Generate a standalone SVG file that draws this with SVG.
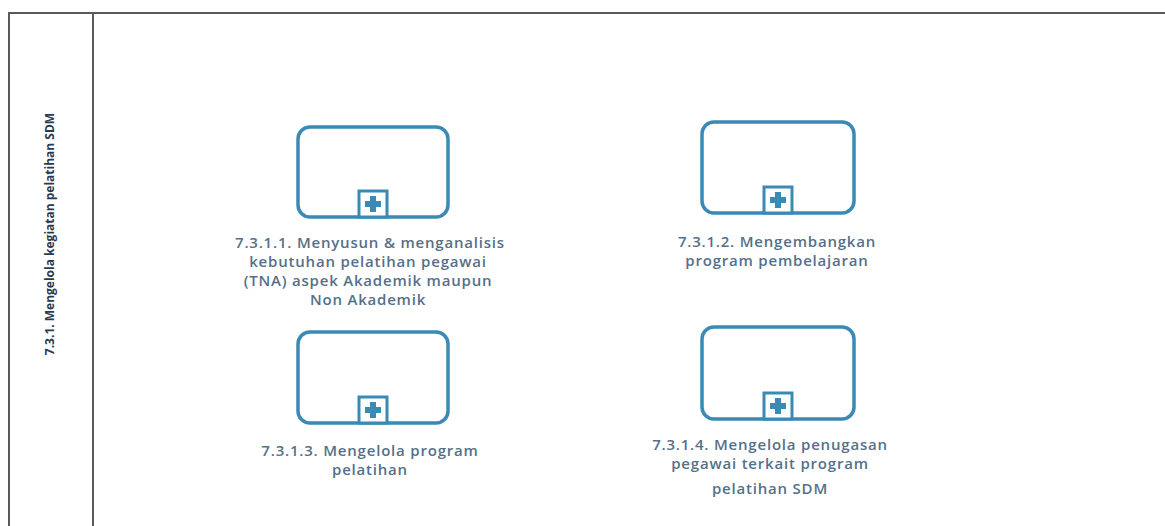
<svg xmlns="http://www.w3.org/2000/svg" width="1165" height="526" viewBox="0 0 1165 526">
  <defs>
    <style>
      .pool { fill: none; stroke: #5a5a5a; stroke-width: 2; }
      .task { fill: #ffffff; stroke: #3a8ab5; stroke-width: 3.5; }
      .marker { fill: #ffffff; stroke: #3a8ab5; stroke-width: 3; }
      .plus { fill: #3a8ab5; }
      .label { font-family: "Open Sans", "Noto Sans", sans-serif; font-size: 15px; font-weight: 600; letter-spacing: 0.8px; fill: #55708a; text-anchor: middle; }
      .lane { font-family: "Open Sans", "Liberation Sans", sans-serif; font-size: 12px; font-weight: 700; fill: #2a3a4e; text-anchor: middle; }
    </style>
    <g id="subMarker">
      <rect class="marker" x="-14" y="-26" width="28" height="26"/>
      <path class="plus" d="M-3,-21 h6 v5 h5 v6 h-5 v5 h-6 v-5 h-5 v-6 h5 z"/>
    </g>
  </defs>
  <rect x="0" y="0" width="1165" height="526" fill="#ffffff"/>

  <g id="pool">
    <path class="pool" d="M1165,13 H9 V526"/>
    <line class="pool" x1="93" y1="13" x2="93" y2="526"/>
    <text class="lane" transform="translate(54,234) rotate(-90)">7.3.1. Mengelola kegiatan pelatihan SDM</text>
  </g>

  <g id="connectors"></g>

  <g id="task1">
    <rect class="task" x="298" y="127" width="150" height="90" rx="12"/>
    <use href="#subMarker" x="373" y="217"/>
    <text class="label" x="370" y="248">7.3.1.1. Menyusun &amp; menganalisis</text>
    <text class="label" x="368" y="267">kebutuhan pelatihan pegawai</text>
    <text class="label" x="368" y="286">(TNA) aspek Akademik maupun</text>
    <text class="label" x="368" y="305">Non Akademik</text>
  </g>

  <g id="task2">
    <rect class="task" x="702" y="122" width="152" height="91" rx="12"/>
    <use href="#subMarker" x="778" y="213"/>
    <text class="label" x="777" y="247">7.3.1.2. Mengembangkan</text>
    <text class="label" x="777" y="266">program pembelajaran</text>
  </g>

  <g id="task3">
    <rect class="task" x="298" y="332" width="150" height="91" rx="12"/>
    <use href="#subMarker" x="373" y="423"/>
    <text class="label" x="370" y="456">7.3.1.3. Mengelola program</text>
    <text class="label" x="370" y="475">pelatihan</text>
  </g>

  <g id="task4">
    <rect class="task" x="702" y="327" width="152" height="92" rx="12"/>
    <use href="#subMarker" x="778" y="419"/>
    <text class="label" x="770" y="450">7.3.1.4. Mengelola penugasan</text>
    <text class="label" x="770" y="469">pegawai terkait program</text>
    <text class="label" x="770" y="494">pelatihan SDM</text>
  </g>
</svg>
